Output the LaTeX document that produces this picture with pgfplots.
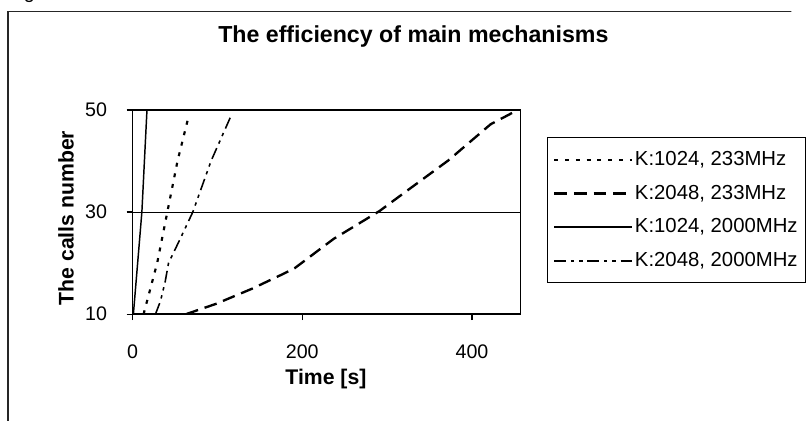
\documentclass[border=0pt]{standalone}
\usepackage{fontspec}
\setmainfont{Liberation Sans}
\usepackage{pgfplots}
\pgfplotsset{compat=1.18}
\begin{document}
\begin{tikzpicture}
\begin{scope}[x=0.5pt,y=0.5pt]
\useasboundingbox (0,0) rectangle (806,428);
\clip (0,0) rectangle (806,428);
\node[anchor=base,font=\fontsize{10}{12}\selectfont,inner sep=0pt] at (30,430) {g};
\draw[line width=0.7pt, black!85] (8,-20) rectangle (830,416);
\node[anchor=base, font=\fontsize{11.8}{14}\selectfont\bfseries, inner sep=0pt] at (421,385) {The efficiency of main mechanisms};
\node[anchor=base, rotate=90, font=\fontsize{10.8}{13}\selectfont\bfseries, inner sep=0pt] at (75,206) {The calls number};
\node[anchor=base, font=\fontsize{10.8}{13}\selectfont\bfseries, inner sep=0pt] at (332,36.3) {Time [s]};
\end{scope}
\begin{axis}[
  at={(67.5pt,54pt)}, anchor=south west, scale only axis,
  width=197.5pt, height=104pt,
  xmin=0, xmax=457, ymin=10, ymax=50,
  xtick={0,200,400}, ytick={10,30,50},
  ymajorgrids, grid style={black, line width=0.5pt},
  axis line style={line width=0.7pt},
  tick align=outside, tick pos=left, major tick length=3pt,
  tick style={black, line width=0.6pt},
  ticklabel style={font=\fontsize{10}{12}\selectfont},
  yticklabel style={xshift=-6.5pt},
  xticklabel style={yshift=-9pt},
  /pgf/number format/assume math mode=true,
  legend style={at={(1.068,0.8654)}, anchor=north west, draw=black, line width=0.5pt,
    font=\fontsize{10.35}{12}\selectfont, inner xsep=3pt, inner ysep=5.5pt, row sep=5.6pt,
    nodes={inner sep=1pt, text height=7.5pt, text depth=2pt},
    /tikz/every even column/.append style={column sep=0pt}},
  legend cell align=left,
  legend image code/.code={\draw[#1] (0pt,0pt) -- (39.5pt,0pt);},
]
\addplot[black, line width=1.1pt, dash pattern=on 2pt off 3.5pt] coordinates {
  (13,10) (29,20) (41,30) (53,40) (66,48.7)};
\addlegendentry{K:1024, 233MHz}
\addplot[black, line width=1.2pt, dash pattern=on 6.5pt off 3.5pt] coordinates {
  (63,10) (98,12) (141,15) (179,18) (191,19) (237,24.75) (291,30.2) (322,34) (372,40.1) (422,47.2) (454,50)};
\addlegendentry{K:2048, 233MHz}
\addplot[black, line width=0.75pt] coordinates {
  (1,10) (6,20) (11,30) (14,40) (17,50)};
\addlegendentry{K:1024, 2000MHz}
\addplot[black, line width=0.8pt, dash pattern=on 6pt off 2.5pt on 1.7pt off 2.5pt on 1.7pt off 2.5pt] coordinates {
  (27,10) (33,12.6) (38.5,16.4) (42.4,20) (56,24.7) (71,30) (92.5,40) (117,49.2)};
\addlegendentry{K:2048, 2000MHz}
\end{axis}
\end{tikzpicture}
\end{document}
